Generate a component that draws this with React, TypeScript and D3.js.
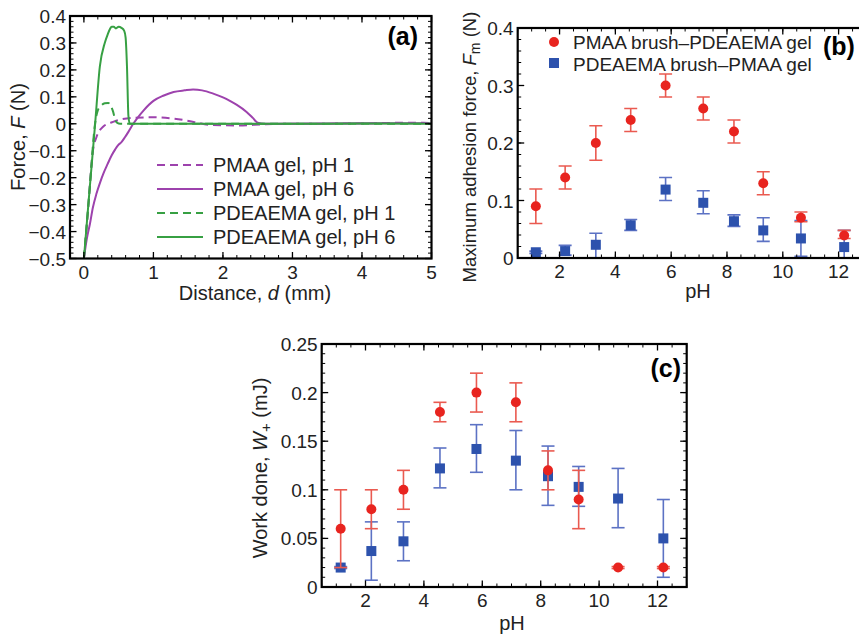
import React from "react";
import * as d3 from "d3";

// ---------- Panel (a): force vs distance curves ----------
const pmaaPh1D = [0, 0.06, 0.1, 0.13, 0.18, 0.28, 0.42, 0.7, 1.0, 1.3, 1.58, 1.8, 2.2, 2.6, 3.0, 4.0, 4.6, 5.0];
const pmaaPh1F = [-0.5, -0.32, -0.18, -0.1, -0.05, -0.01, 0.007, 0.022, 0.024, 0.019, 0.007, -0.004, -0.006, -0.002, 0.0, 0.001, 0.004, 0.003];

const pmaaPh6D = [0, 0.04, 0.087, 0.13, 0.18, 0.23, 0.28, 0.34, 0.4, 0.45, 0.49, 0.54, 0.59, 0.64, 0.71, 0.78, 0.86, 1.0, 1.15, 1.29, 1.45, 1.57, 1.7, 1.86, 2.0, 2.1, 2.2, 2.34, 2.43, 2.5, 2.6, 3.0, 4.0, 5.0];
const pmaaPh6F = [-0.5, -0.43, -0.371, -0.31, -0.26, -0.22, -0.185, -0.15, -0.117, -0.095, -0.08, -0.068, -0.05, -0.03, 0.0, 0.025, 0.05, 0.085, 0.105, 0.118, 0.124, 0.127, 0.124, 0.112, 0.098, 0.085, 0.07, 0.044, 0.022, 0.004, 0.0, 0.0, 0.002, 0.002];

const pdeaPh1D = [0, 0.08, 0.16, 0.2, 0.25, 0.3, 0.35, 0.39, 0.42, 0.45, 0.48, 0.52, 1.0, 2.0, 3.0, 4.0, 5.0];
const pdeaPh1F = [-0.5, -0.25, 0.0, 0.05, 0.068, 0.076, 0.077, 0.065, 0.045, 0.015, 0.003, 0.0, 0.0, 0.0, 0.0, 0.0, 0.0];

const pdeaPh6D = [0, 0.08, 0.16, 0.23, 0.3, 0.34, 0.375, 0.4, 0.43, 0.46, 0.5, 0.54, 0.58, 0.6, 0.62, 0.64, 0.66, 1.0, 2.0, 3.0, 4.0, 5.0];
const pdeaPh6F = [-0.5, -0.25, -0.005, 0.214, 0.3, 0.33, 0.352, 0.36, 0.36, 0.354, 0.36, 0.356, 0.345, 0.32, 0.21, 0.03, 0.0, 0.0, 0.0, 0.0, 0.001, 0.0];

const curveNames = ["PMAA gel, pH 1", "PMAA gel, pH 6", "PDEAEMA gel, pH 1", "PDEAEMA gel, pH 6"];

// ---------- Panels (b) and (c): pH series ----------
const phValues = [1.15, 2.2, 3.3, 4.55, 5.8, 7.15, 8.25, 9.3, 10.65, 12.2];

const fmRed = [0.09, 0.14, 0.2, 0.24, 0.3, 0.26, 0.22, 0.13, 0.07, 0.039];
const fmRedLo = [0.06, 0.12, 0.17, 0.22, 0.28, 0.24, 0.2, 0.11, 0.063, 0.034];
const fmRedHi = [0.12, 0.16, 0.23, 0.26, 0.32, 0.28, 0.24, 0.15, 0.08, 0.048];

const fmBlue = [0.01, 0.012, 0.023, 0.057, 0.119, 0.096, 0.064, 0.048, 0.034, 0.019];
const fmBlueLo = [0.008, 0.005, 0.0, 0.048, 0.1, 0.077, 0.055, 0.029, 0.003, -0.01];
const fmBlueHi = [0.012, 0.022, 0.043, 0.067, 0.14, 0.117, 0.075, 0.07, 0.065, 0.048];

const wRed = [0.06, 0.08, 0.1, 0.18, 0.2, 0.19, 0.12, 0.09, 0.02, 0.02];
const wRedLo = [0.02, 0.06, 0.08, 0.17, 0.18, 0.17, 0.1, 0.06, 0.019, 0.019];
const wRedHi = [0.1, 0.1, 0.12, 0.19, 0.22, 0.21, 0.14, 0.12, 0.021, 0.021];

const wBlue = [0.02, 0.037, 0.047, 0.122, 0.142, 0.13, 0.114, 0.103, 0.091, 0.05];
const wBlueLo = [0.019, 0.007, 0.027, 0.102, 0.118, 0.1, 0.084, 0.083, 0.061, 0.01];
const wBlueHi = [0.021, 0.067, 0.067, 0.143, 0.167, 0.161, 0.145, 0.124, 0.122, 0.09];

const legendB = ["PMAA brush\u2013PDEAEMA gel", "PDEAEMA brush\u2013PMAA gel"];

const FONT = "'Liberation Sans', Arial, Helvetica, sans-serif";
const RED = "#e8241f";
const RED_BAR = "#ea5a50";
const BLUE = "#2d52ad";
const BLUE_BAR = "#5c72c4";
const GREEN = "#37a043";
const PURPLE = "#9d42ad";

const fmt = (v: number) => {
  const s = d3.format("")(+v.toFixed(3));
  return s.replace("-", "\u2212");
};

type Sc = d3.ScaleLinear<number, number>;

function Frame({ x, y, xMajor, xMinor, yMajor, yMinor, xLabels = true }: {
  x: Sc; y: Sc; xMajor: number[]; xMinor: number[]; yMajor: number[]; yMinor: number[]; xLabels?: boolean;
}) {
  const [x0, x1] = x.range();
  const [y0, y1] = y.range(); // y0 bottom, y1 top
  const maj = 6.5, mnr = 3.5;
  const els: React.ReactNode[] = [];
  xMinor.forEach((v, i) => {
    const px = x(v);
    els.push(<line key={"xm" + i} x1={px} x2={px} y1={y0} y2={y0 - mnr} stroke="#000" strokeWidth={1} />);
    els.push(<line key={"xmt" + i} x1={px} x2={px} y1={y1} y2={y1 + mnr} stroke="#000" strokeWidth={1} />);
  });
  xMajor.forEach((v, i) => {
    const px = x(v);
    els.push(<line key={"xM" + i} x1={px} x2={px} y1={y0} y2={y0 - maj} stroke="#000" strokeWidth={1.3} />);
    els.push(<line key={"xMt" + i} x1={px} x2={px} y1={y1} y2={y1 + maj} stroke="#000" strokeWidth={1.3} />);
    if (xLabels)
      els.push(<text key={"xl" + i} x={px} y={y0 + 20} textAnchor="middle" fontSize={19} fontFamily={FONT} fill="#222">{fmt(v)}</text>);
  });
  yMinor.forEach((v, i) => {
    const py = y(v);
    els.push(<line key={"ym" + i} x1={x0} x2={x0 + mnr} y1={py} y2={py} stroke="#000" strokeWidth={1} />);
    els.push(<line key={"ymr" + i} x1={x1} x2={x1 - mnr} y1={py} y2={py} stroke="#000" strokeWidth={1} />);
  });
  yMajor.forEach((v, i) => {
    const py = y(v);
    els.push(<line key={"yM" + i} x1={x0} x2={x0 + maj} y1={py} y2={py} stroke="#000" strokeWidth={1.3} />);
    els.push(<line key={"yMr" + i} x1={x1} x2={x1 - maj} y1={py} y2={py} stroke="#000" strokeWidth={1.3} />);
    els.push(<text key={"yl" + i} x={x0 - 4} y={py + 7} textAnchor="end" fontSize={19} fontFamily={FONT} fill="#222">{fmt(v)}</text>);
  });
  return (
    <g>
      {els}
      <rect x={x0} y={y1} width={x1 - x0} height={y0 - y1} fill="none" stroke="#000" strokeWidth={2.2} />
    </g>
  );
}

function rangeStep(a: number, b: number, s: number) {
  const out: number[] = [];
  const n = Math.round((b - a) / s);
  for (let i = 0; i <= n; i++) out.push(+(a + i * s).toFixed(4));
  return out;
}

function PanelA() {
  const x = d3.scaleLinear().domain([-0.2, 5]).range([70, 431.5]);
  const y = d3.scaleLinear().domain([-0.5, 0.4]).range([258.5, 16]);
  const line = d3.line<[number, number]>().x((d) => x(d[0])).y((d) => y(d[1])).curve(d3.curveMonotoneX);
  const mk = (D: number[], F: number[]) => line(D.map((d, i) => [d, F[i]] as [number, number])) || "";
  const curves = [
    { p: mk(pmaaPh1D, pmaaPh1F), c: PURPLE, dash: "8,5" },
    { p: mk(pmaaPh6D, pmaaPh6F), c: PURPLE, dash: "" },
    { p: mk(pdeaPh1D, pdeaPh1F), c: GREEN, dash: "8,5" },
    { p: mk(pdeaPh6D, pdeaPh6F), c: GREEN, dash: "" },
  ];
  const legendY = [165, 189, 213, 237];
  return (
    <g>
      <defs>
        <clipPath id="clipA">
          <rect x={70} y={16} width={361.5} height={242.5} />
        </clipPath>
      </defs>
      <g clipPath="url(#clipA)">
        {curves.map((c, i) => (
          <path key={i} d={c.p} fill="none" stroke={c.c} strokeWidth={2} strokeDasharray={c.dash || undefined} />
        ))}
      </g>
      {curves.map((c, i) => (
        <g key={"lg" + i}>
          <line x1={157} x2={203} y1={legendY[i]} y2={legendY[i]} stroke={c.c} strokeWidth={2} strokeDasharray={c.dash || undefined} />
          <text x={213} y={legendY[i] + 7} fontSize={20} fontFamily={FONT} fill="#222">{curveNames[i]}</text>
        </g>
      ))}
      <Frame x={x} y={y} xMajor={rangeStep(0, 5, 1)} xMinor={rangeStep(-0.2, 5, 0.2)} yMajor={rangeStep(-0.5, 0.4, 0.1)} yMinor={rangeStep(-0.5, 0.4, 0.02)} />
      <text x={418} y={45} textAnchor="end" fontSize={25} fontWeight="bold" fontFamily={FONT}>(a)</text>
      <text x={255} y={300} textAnchor="middle" fontSize={20} fontFamily={FONT} fill="#222">
        Distance, <tspan fontStyle="italic">d</tspan> (mm)
      </text>
      <text transform="translate(25,137) rotate(-90)" textAnchor="middle" fontSize={20} fontFamily={FONT} fill="#222">
        Force, <tspan fontStyle="italic">F</tspan> (N)
      </text>
    </g>
  );
}

function ErrPoints({ x, y, xs, v, lo, hi, color, barColor, shape }: {
  x: Sc; y: Sc; xs: number[]; v: number[]; lo: number[]; hi: number[]; color: string; barColor: string; shape: "circle" | "square";
}) {
  const cap = 6.5;
  return (
    <g>
      {xs.map((p, i) => {
        const px = x(p);
        const yl = y(lo[i]), yh = y(hi[i]), yc = y(v[i]);
        return (
          <g key={i}>
            <line x1={px} x2={px} y1={yl} y2={yh} stroke={barColor} strokeWidth={1.6} />
            <line x1={px - cap} x2={px + cap} y1={yl} y2={yl} stroke={barColor} strokeWidth={1.6} />
            <line x1={px - cap} x2={px + cap} y1={yh} y2={yh} stroke={barColor} strokeWidth={1.6} />
            {shape === "circle" ? (
              <circle cx={px} cy={yc} r={5} fill={color} />
            ) : (
              <rect x={px - 5} y={yc - 5} width={10} height={10} fill={color} />
            )}
          </g>
        );
      })}
    </g>
  );
}

function PanelB() {
  const x = d3.scaleLinear().domain([0.5, 13]).range([517.7, 866.5]);
  const y = d3.scaleLinear().domain([0, 0.4]).range([258, 28]);
  return (
    <g>
      <defs>
        <clipPath id="clipB">
          <rect x={517.7} y={28} width={348.8} height={230} />
        </clipPath>
      </defs>
      <g clipPath="url(#clipB)">
        <ErrPoints x={x} y={y} xs={phValues} v={fmBlue} lo={fmBlueLo} hi={fmBlueHi} color={BLUE} barColor={BLUE_BAR} shape="square" />
        <ErrPoints x={x} y={y} xs={phValues} v={fmRed} lo={fmRedLo} hi={fmRedHi} color={RED} barColor={RED_BAR} shape="circle" />
      </g>
      <Frame x={x} y={y} xMajor={rangeStep(2, 12, 2)} xMinor={rangeStep(0.5, 13, 0.5)} yMajor={rangeStep(0, 0.4, 0.1)} yMinor={rangeStep(0, 0.4, 0.02)} />
      <circle cx={554} cy={42} r={5} fill={RED} />
      <text x={573} y={49} fontSize={19} fontFamily={FONT} fill="#222">{legendB[0]}</text>
      <rect x={549} y={58} width={10} height={10} fill={BLUE} />
      <text x={573} y={71} fontSize={19} fontFamily={FONT} fill="#222">{legendB[1]}</text>
      <text x={823} y={55} fontSize={25} fontWeight="bold" fontFamily={FONT}>(b)</text>
      <text x={698} y={298} textAnchor="middle" fontSize={20} fontFamily={FONT} fill="#222">pH</text>
      <text transform="translate(476,147) rotate(-90)" textAnchor="middle" fontSize={18.5} fontFamily={FONT} fill="#222">
        Maximum adhesion force, <tspan fontStyle="italic">F</tspan>
        <tspan fontSize={14} dy={4}>m</tspan>
        <tspan dy={-4}> (N)</tspan>
      </text>
    </g>
  );
}

function PanelC() {
  const x = d3.scaleLinear().domain([0.5, 13]).range([321.7, 686.7]);
  const y = d3.scaleLinear().domain([0, 0.25]).range([587, 344]);
  return (
    <g>
      <ErrPoints x={x} y={y} xs={phValues} v={wBlue} lo={wBlueLo} hi={wBlueHi} color={BLUE} barColor={BLUE_BAR} shape="square" />
      <ErrPoints x={x} y={y} xs={phValues} v={wRed} lo={wRedLo} hi={wRedHi} color={RED} barColor={RED_BAR} shape="circle" />
      <Frame x={x} y={y} xMajor={rangeStep(2, 12, 2)} xMinor={rangeStep(0.5, 13, 0.5)} yMajor={rangeStep(0, 0.25, 0.05)} yMinor={rangeStep(0, 0.25, 0.01)} />
      <text x={681} y={377} textAnchor="end" fontSize={25} fontWeight="bold" fontFamily={FONT}>(c)</text>
      <text x={512} y={630} textAnchor="middle" fontSize={20} fontFamily={FONT} fill="#222">pH</text>
      <text transform="translate(267,468) rotate(-90)" textAnchor="middle" fontSize={20} fontFamily={FONT} fill="#222">
        Work done, <tspan fontStyle="italic">W</tspan>
        <tspan fontSize={15} dy={4}>+</tspan>
        <tspan dy={-4}> (mJ)</tspan>
      </text>
    </g>
  );
}

export default function App() {
  return (
    <svg width={859} height={638} viewBox="0 0 859 638" style={{ position: "absolute", left: 0, top: 0, background: "#fff" }}>
      <rect x={0} y={0} width={859} height={638} fill="#fff" />
      <PanelA />
      <PanelB />
      <PanelC />
    </svg>
  );
}
